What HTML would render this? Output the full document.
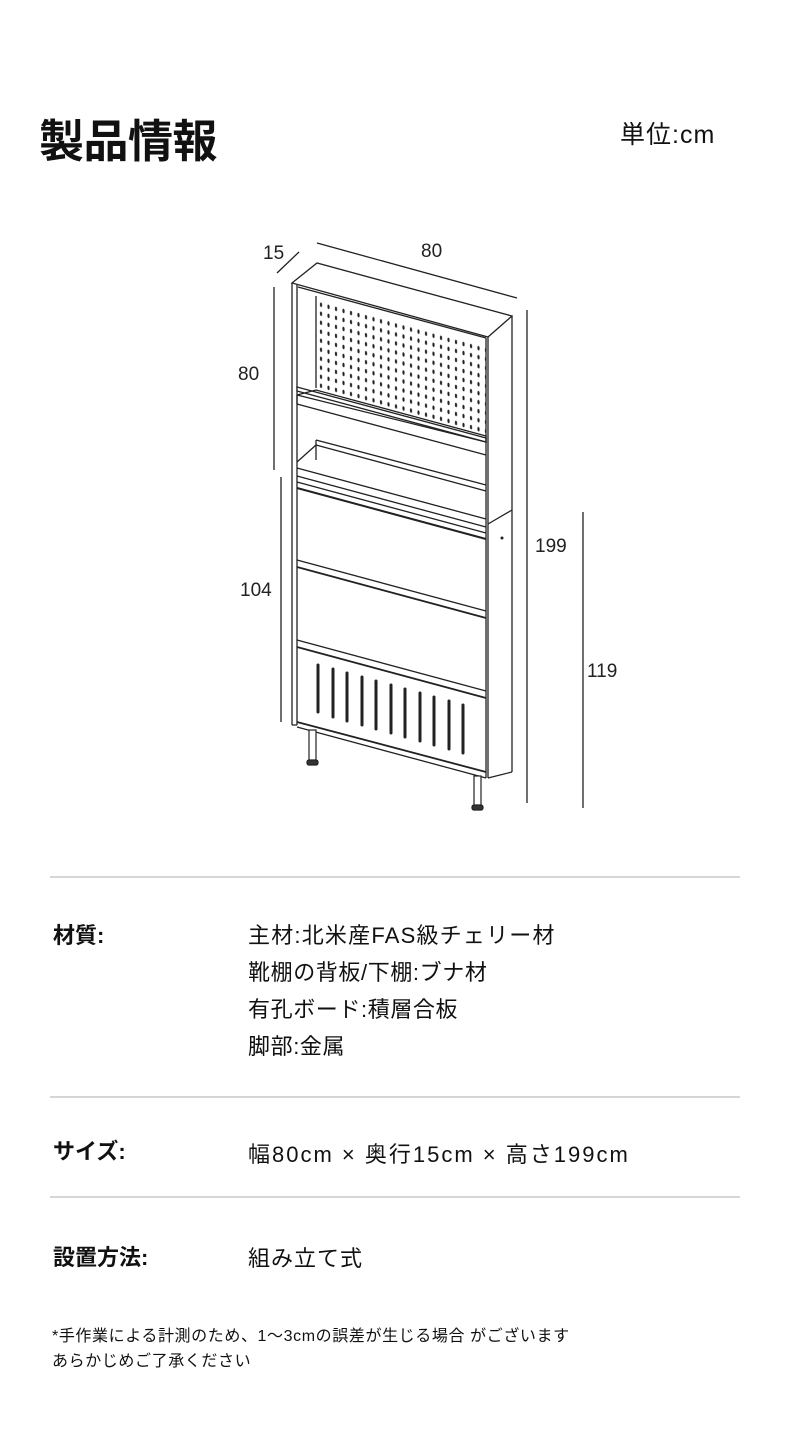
<!DOCTYPE html>
<html><head><meta charset="utf-8"><style>
body{margin:0;background:#fff;}
.page{position:relative;width:790px;height:1441px;overflow:hidden;background:#fff;font-family:"Liberation Sans","Noto Sans CJK JP",sans-serif;color:#111;}
.t{position:absolute;white-space:nowrap;}
.hr{position:absolute;left:50px;width:690px;height:2px;background:#d6d6d6;}
.lab{font-weight:bold;font-size:22px;left:53px;}
.val{font-size:22px;left:248px;letter-spacing:0.6px;}
</style></head><body><div class="page">
<div class="t" style="left:39px;top:105px;font-size:45px;font-weight:bold;letter-spacing:-0.5px;">製品情報</div>
<div class="t" style="left:620px;top:115px;font-size:25px;letter-spacing:1px;">単位:cm</div>

<svg style="position:absolute;left:0;top:0" width="790" height="860" viewBox="0 0 790 860">
<defs>
<pattern id="dots" width="7.5" height="9" patternUnits="userSpaceOnUse" patternTransform="translate(318,300) skewY(15.4)">
<ellipse cx="3" cy="4" rx="1.1" ry="2.2" fill="#222"/>
</pattern>
</defs>
<g fill="none" stroke="#222" stroke-width="1.3">
<line x1="277" y1="273" x2="299" y2="252"/>
<line x1="317" y1="243" x2="517" y2="298"/>
<line x1="274" y1="287" x2="274" y2="470"/>
<line x1="281" y1="477" x2="281" y2="722"/>
<line x1="527" y1="310" x2="527" y2="803"/>
<line x1="583" y1="512" x2="583" y2="808"/>
<polygon points="292,283 317,263 512,316 488,337" fill="#fff"/>
<line x1="298" y1="287" x2="486" y2="338"/>
<line x1="292" y1="283" x2="292" y2="725"/>
<line x1="297" y1="285" x2="297" y2="725"/>
<line x1="292" y1="725" x2="297" y2="725"/>
<line x1="486" y1="338" x2="486" y2="778"/>
<line x1="488" y1="337" x2="488" y2="778"/>
<line x1="512" y1="316" x2="512" y2="772"/>
<line x1="488" y1="778" x2="512" y2="772"/>
<line x1="488" y1="524" x2="512" y2="510"/>
<line x1="316" y1="296" x2="316" y2="388"/>
<line x1="316" y1="440" x2="316" y2="460"/>
<polygon points="318,298 486,344 486,436 318,390" fill="url(#dots)" stroke="none"/>
<polygon points="297,387 486,438 486,442 297,391" fill="#fff"/>
<polygon points="297,395 316,390 486,436 486,442" fill="none"/>
<line x1="297" y1="404" x2="486" y2="455"/>
<line x1="297" y1="395" x2="297" y2="404"/>
<line x1="316" y1="445" x2="486" y2="491"/>
<line x1="316" y1="440" x2="486" y2="485"/>
<line x1="297" y1="462" x2="316" y2="445"/>
<line x1="297" y1="468" x2="486" y2="519"/>
<line x1="297" y1="476" x2="486" y2="527"/>
<line x1="297" y1="482" x2="486" y2="533"/>
<line x1="297" y1="488" x2="486" y2="539" stroke-width="2"/>
<line x1="297" y1="560" x2="486" y2="611"/>
<line x1="297" y1="567" x2="486" y2="618" stroke-width="1.8"/>
<line x1="297" y1="640" x2="486" y2="691"/>
<line x1="297" y1="647" x2="486" y2="698" stroke-width="1.8"/>
<line x1="297" y1="722" x2="486" y2="772" stroke-width="1.8"/>
<line x1="297" y1="727" x2="486" y2="778"/>
</g>
<circle cx="502" cy="538" r="1.5" fill="#222"/>
<g stroke="#222" stroke-width="3" stroke-linecap="round">
<line x1="318" y1="665" x2="318" y2="712"/>
<line x1="333" y1="669" x2="333" y2="717"/>
<line x1="347" y1="673" x2="347" y2="721"/>
<line x1="362" y1="677" x2="362" y2="725"/>
<line x1="376" y1="681" x2="376" y2="729"/>
<line x1="391" y1="685" x2="391" y2="733"/>
<line x1="405" y1="689" x2="405" y2="737"/>
<line x1="420" y1="693" x2="420" y2="741"/>
<line x1="434" y1="697" x2="434" y2="745"/>
<line x1="449" y1="701" x2="449" y2="749"/>
<line x1="463" y1="705" x2="463" y2="753"/>
</g>
<g fill="#fff" stroke="#222" stroke-width="1.2">
<rect x="309" y="730" width="7" height="32"/>
<rect x="307" y="760" width="11" height="5" rx="2" fill="#333"/>
<rect x="474" y="776" width="7" height="31"/>
<rect x="472" y="805" width="11" height="5" rx="2" fill="#333"/>
</g>
<g font-family="Liberation Sans, sans-serif" font-size="19" fill="#222">
<text x="263" y="259">15</text>
<text x="421" y="257">80</text>
<text x="238" y="380">80</text>
<text x="240" y="596">104</text>
<text x="535" y="552">199</text>
<text x="587" y="677">119</text>
</g>
</svg>

<div class="hr" style="top:876px"></div>
<div class="t lab" style="top:918px">材質:</div>
<div class="t val" style="top:918px;letter-spacing:1.2px;">主材:北米産FAS級チェリー材</div>
<div class="t val" style="top:955px">靴棚の背板/下棚:ブナ材</div>
<div class="t val" style="top:992px">有孔ボード:積層合板</div>
<div class="t val" style="top:1029px">脚部:金属</div>
<div class="hr" style="top:1096px"></div>
<div class="t lab" style="top:1134px">サイズ:</div>
<div class="t val" style="top:1137px;letter-spacing:2px;">幅80cm × 奥行15cm × 高さ199cm</div>
<div class="hr" style="top:1196px"></div>
<div class="t lab" style="top:1240px">設置方法:</div>
<div class="t val" style="top:1241px;letter-spacing:1px;">組み立て式</div>
<div class="t" style="left:52px;top:1322px;font-size:16px;letter-spacing:0.6px;">*手作業による計測のため、1～3cmの誤差が生じる場合 がございます</div>
<div class="t" style="left:52px;top:1347px;font-size:16px;letter-spacing:0.6px;">あらかじめご了承ください</div>
</div></body></html>
